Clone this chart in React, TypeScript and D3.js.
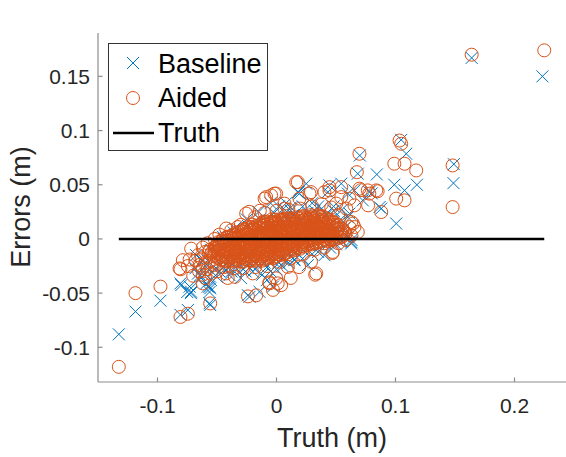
import React from "react";
import * as d3 from "d3";

// ---- data (values in millimetres; axes are in metres) ----
const xTicks = [-0.1, 0, 0.1, 0.2];
const xTickLabels = ["-0.1", "0", "0.1", "0.2"];
const yTicks = [-0.1, -0.05, 0, 0.05, 0.1, 0.15];
const yTickLabels = ["-0.1", "-0.05", "0", "0.05", "0.1", "0.15"];
const legendLabels = ["Baseline", "Aided", "Truth"];

// Baseline (blue x) – isolated points
const baselineOutliers: [number, number][] = [
  [223.5, 150], [164, 167], [70, 77], [104.8, 91.4], [109, 78.6], [84.3, 59.5], [99, 50], [107.6, 44.8],
  [118, 50], [88, 28], [100.6, 14.2], [149, 69], [148.7, 51.5], [80, 42], [68.3, 60.2], [63, -3],
  [18.5, 43], [25, 51], [-3, -44], [-118.5, -67], [-97.5, -57], [-132.5, -88], [-80.7, -41],
  [-73, -44], [-75, -49], [-72, -50], [-74.5, -65.6], [-80.7, -70], [-55.7, -61], [-55.7, -45.6],
  [-59, -41], [-66, -32], [-24, -52], [-57.7, -44], [-56.3, -49], [63, -1], [86.6, 29.4],
  [44.5, 49.4], [54.4, 51], [60, 41.8], [78, 43.2], [72.5, 35.6], [61.3, 23.4], [19.3, 41.8],
  [-80, -42.6], [-71.7, -48.8], [-56.3, -59.4], [-22.7, -53.4], [-56.3, -44.2], [-39.5, -33.4],
  [-14.3, -48.8], [17.9, 43.2], [43.1, 43.2], [65.5, 44.8], [62.8, -4.2], [26.3, -24.2],
  [15.1, -19.6], [40.3, -15], [-67.5, -15], [-64, -33.4],
  [-65, -38], [-60, -32], [-68, -27], [-55, -38], [-50, -35], [-62, -20],
];
// Baseline – points in and around the dense cloud
const baselineCloud: [number, number][] = [
  [-60, -25], [-52, -28], [-48, -30], [-45, -26], [-38, -30], [-30, -36], [-28, -28], [-20, -30],
  [-12, -33], [-8, -38], [-5, -30], [0, -28], [5, -25], [10, -22], [15, -19], [22, -18], [30, -14],
  [35, -12], [45, -8], [50, -5], [55, -2], [-5, 33], [2, 30], [8, 33], [12, 29], [22, 30], [30, 33],
  [35, 30], [48, 30], [55, 27], [60, 20], [-15, 25], [-25, 18], [-35, 10], [-45, 2],
  [-50, -14], [-45, -8], [-42, -18], [-38, -4], [-35, -16], [-32, -22], [-30, 0], [-28, -10],
  [-25, -24], [-22, -14], [-20, 4], [-18, -22], [-15, -6], [-12, 10], [-10, -22], [-8, -12],
  [-5, 2], [-3, -20], [0, -8], [2, 12], [4, -18], [6, -4], [8, 20], [10, -14], [12, 6], [14, 22],
  [16, -12], [18, 2], [20, 16], [22, -10], [24, 8], [26, 24], [28, -6], [30, 12], [32, 26],
  [34, -2], [36, 16], [38, 28], [40, 4], [42, 22], [44, -4], [46, 14], [48, 26], [50, 6], [52, -2],
  [54, 18], [57, 10], [60, 2], [-55, -10], [-58, -20], [-47, -24], [-40, -26], [-33, -28],
  [-26, -30], [-18, -28], [-8, -26], [2, -22], [8, -20], [-14, 18], [-24, 12], [-36, 6], [-44, 0],
  [-2, 24], [6, 28], [12, 26],
];

// Aided (orange o) – isolated points
const aidedOutliers: [number, number][] = [
  [225, 174], [164, 170], [69.7, 78.6], [103.4, 90.8], [104.8, 87.8], [99, 69.4], [107.6, 69.4],
  [117.4, 63.2], [100.6, 37.2], [107.6, 35.6], [88, 24.8], [148, 67.8], [148, 29.4], [85, 44],
  [67.5, 61.6], [71, 45], [77, 31], [17.9, 52.4], [29, 43.2], [32.5, -33], [12, -36], [-6, -40],
  [1, -41], [-118.5, -50], [-97.5, -44], [-132.5, -118], [-80.7, -28], [-73, -19], [-74.5, -25],
  [-74.5, -69], [-80.7, -72], [-55.7, -59.5], [-64.7, -24], [-62, -27], [-62, -33], [-41, -36],
  [-35, -35], [-71.7, -9], [-24, -53], [-17, -52], [-3, -47], [-62, -41], [58.5, -1], [63, 3],
  [65.5, 11], [47, -13], [29, -21], [19, -26], [-78.7, -19.6], [-81.5, -27.2], [-42.3, -31.8],
  [-19.9, -31.8], [-5.9, -41], [-0.3, -36.4], [33.4, -31.8], [9.5, -25.8], [3.9, -42.6],
  [44.5, 47.8], [54.4, 47.8], [69.7, 46.4], [76.7, 44.8], [83.8, 44.8], [61.3, 37.2], [78, 41.8],
];
// Aided – fringe around the dense cloud
const aidedFringe: [number, number][] = [
  [-23, 25], [-14, 26], [-8.7, 38.6], [-1.7, 41.8], [6.7, 32.6], [16.6, 52.4], [-42.3, 9.6],
  [-32.5, 11], [-25.5, 23.4], [6.7, 28], [19.3, 37.2], [27.7, 41.8], [40.3, 43.2], [54.4, 38.6],
  [65.5, 31], [62.8, 15.6], [68.3, 6.4], [47.3, -12], [44.5, 44.8], [50.2, 32.6], [58.6, 28],
  [64.2, 14.2], [61.3, 11], [-4.5, 40.2], [-0.3, 41.8], [-10, 37.2], [-48, 4], [-52, 0], [-38, 8],
  [-30, 13], [-18, 20], [-10, 24], [0, 26], [10, 27], [20, 28], [30, 30], [38, 32], [46, 29],
  [52, 22], [-56, -20], [-52, -24], [-44, -26], [-36, -27], [-28, -27], [-18, -26], [-8, -25],
  [2, -21], [12, -18], [22, -14], [32, -10], [40, -8], [52, -4], [-60, -12], [-58, -4],
  [-66, -15], [-68, -20], [-63, -18], [-60, -22], [-58, -28], [-65, -30], [-70, -34], [-60, -36],
  [-55, -32], [-50, -30], [-57, -12], [-62, -8], [-52, -22],
];
// Aided – dense cloud (first pass)
const aidedCloud: [number, number][] = [
  [-53, -16], [-54, -12], [-52, -8],
  [-50, -17], [-49, -13], [-51, -9], [-50, -5],
  [-47, -19], [-46, -15], [-47, -10], [-48, -6], [-46, -2],
  [-43, -20], [-44, -16], [-42, -12], [-43, -7], [-44, -3], [-42, 1],
  [-40, -18], [-39, -14], [-41, -10], [-40, -6], [-39, -2], [-40, 2],
  [-36, -21], [-37, -17], [-35, -13], [-36, -9], [-37, -5], [-35, -1], [-36, 4],
  [-33, -19], [-32, -15], [-34, -11], [-33, -7], [-32, -3], [-33, 1], [-34, 6],
  [-30, -21], [-29, -17], [-31, -13], [-30, -9], [-29, -5], [-30, -1], [-31, 3], [-29, 7],
  [-26, -19], [-27, -15], [-25, -11], [-26, -7], [-27, -3], [-25, 1], [-26, 5], [-27, 9],
  [-23, -20], [-22, -16], [-24, -12], [-23, -8], [-22, -4], [-23, 0], [-24, 4], [-22, 8], [-23, 11],
  [-20, -18], [-19, -14], [-21, -10], [-20, -6], [-19, -2], [-21, 2], [-20, 6], [-19, 10], [-20, 13],
  [-16, -20], [-17, -16], [-15, -12], [-16, -8], [-17, -4], [-15, 0], [-16, 4], [-17, 8], [-15, 12],
  [-13, -18], [-12, -14], [-14, -10], [-13, -6], [-12, -2], [-13, 2], [-14, 6], [-12, 10], [-13, 14],
  [-10, -19], [-9, -15], [-11, -11], [-10, -7], [-9, -3], [-10, 1], [-11, 5], [-9, 9], [-10, 13], [-11, 16],
  [-6, -17], [-7, -13], [-5, -9], [-6, -5], [-7, -1], [-5, 3], [-6, 7], [-7, 11], [-5, 15],
  [-3, -18], [-2, -14], [-4, -10], [-3, -6], [-2, -2], [-3, 2], [-4, 6], [-2, 10], [-3, 14], [-4, 18],
  [0, -16], [1, -12], [-1, -8], [0, -4], [1, 0], [-1, 4], [0, 8], [1, 12], [0, 16],
  [3, -15], [2, -11], [4, -7], [3, -3], [2, 1], [4, 5], [3, 9], [2, 13], [3, 17],
  [6, -14], [7, -10], [5, -6], [6, -2], [7, 2], [5, 6], [6, 10], [7, 14], [6, 18],
  [10, -12], [9, -8], [11, -4], [10, 0], [9, 4], [11, 8], [10, 12], [9, 16], [10, 19],
  [13, -11], [14, -7], [12, -3], [13, 1], [14, 5], [12, 9], [13, 13], [14, 17],
  [16, -10], [15, -6], [17, -2], [16, 2], [15, 6], [17, 10], [16, 14], [15, 18],
  [20, -9], [21, -5], [19, -1], [20, 3], [21, 7], [19, 11], [20, 15], [21, 19],
  [23, -7], [22, -3], [24, 1], [23, 5], [22, 9], [24, 13], [23, 17], [22, 21],
  [26, -6], [27, -2], [25, 2], [26, 6], [27, 10], [25, 14], [26, 18],
  [30, -5], [29, -1], [31, 3], [30, 7], [29, 11], [31, 15], [30, 19], [29, 22],
  [33, -4], [34, 0], [32, 4], [33, 8], [34, 12], [32, 16], [33, 20],
  [36, -3], [35, 1], [37, 5], [36, 9], [35, 13], [37, 17], [36, 21],
  [40, -4], [41, 0], [39, 4], [40, 8], [41, 12], [39, 16], [40, 20],
  [43, -2], [42, 2], [44, 6], [43, 10], [42, 14], [44, 18],
  [46, -1], [47, 3], [45, 7], [46, 11], [47, 15],
  [50, 0], [49, 4], [51, 8], [50, 12], [49, 15],
  [53, 1], [54, 5], [52, 9],
  [56, 3], [57, 7],
];
// Aided – dense cloud (second pass, interleaved)
const aidedCloud2: [number, number][] = [
  [-55, -14], [-56, -10],
  [-51.5, -15], [-52, -11], [-51, -7],
  [-48.5, -18], [-49, -14], [-48, -10], [-48.5, -6], [-49, -3],
  [-45, -19], [-45.5, -15], [-44.5, -11], [-45, -7], [-45.5, -3], [-45, 0],
  [-41.5, -21], [-42, -17], [-41, -13], [-41.5, -9], [-42, -5], [-41, -1], [-41.5, 2],
  [-38, -20], [-38.5, -16], [-37.5, -12], [-38, -8], [-38.5, -4], [-37.5, 0], [-38, 3],
  [-34.5, -20], [-35, -16], [-34, -12], [-34.5, -8], [-35, -4], [-34, 0], [-34.5, 4],
  [-31.5, -20], [-32, -16], [-31, -12], [-31.5, -8], [-32, -4], [-31, 0], [-31.5, 4], [-32, 6],
  [-28, -21], [-28.5, -17], [-27.5, -13], [-28, -9], [-28.5, -5], [-27.5, -1], [-28, 3], [-28.5, 7], [-27.5, 9],
  [-24.5, -19], [-25, -15], [-24, -11], [-24.5, -7], [-25, -3], [-24, 1], [-24.5, 5], [-25, 9],
  [-21.5, -20], [-22, -16], [-21, -12], [-21.5, -8], [-22, -4], [-21, 0], [-21.5, 4], [-22, 8], [-21, 11],
  [-18, -19], [-18.5, -15], [-17.5, -11], [-18, -7], [-18.5, -3], [-17.5, 1], [-18, 5], [-18.5, 9], [-17.5, 12],
  [-14.5, -18], [-15, -14], [-14, -10], [-14.5, -6], [-15, -2], [-14, 2], [-14.5, 6], [-15, 10], [-14, 13],
  [-11.5, -20], [-12, -16], [-11, -12], [-11.5, -8], [-12, -4], [-11, 0], [-11.5, 4], [-12, 8], [-11, 12], [-11.5, 15],
  [-8, -18], [-8.5, -14], [-7.5, -10], [-8, -6], [-8.5, -2], [-7.5, 2], [-8, 6], [-8.5, 10], [-7.5, 14], [-8, 16],
  [-4.5, -16], [-5, -12], [-4, -8], [-4.5, -4], [-5, 0], [-4, 4], [-4.5, 8], [-5, 12], [-4, 16],
  [-1.5, -17], [-2, -13], [-1, -9], [-1.5, -5], [-2, -1], [-1, 3], [-1.5, 7], [-2, 11], [-1, 15], [-1.5, 18],
  [1.5, -14], [1, -10], [2, -6], [1.5, -2], [1, 2], [2, 6], [1.5, 10], [1, 14], [2, 18],
  [4.5, -13], [4, -9], [5, -5], [4.5, -1], [4, 3], [5, 7], [4.5, 11], [4, 15], [5, 18],
  [8, -13], [7.5, -9], [8.5, -5], [8, -1], [7.5, 3], [8.5, 7], [8, 11], [7.5, 15], [8.5, 19],
  [11.5, -10], [11, -6], [12, -2], [11.5, 2], [11, 6], [12, 10], [11.5, 14], [11, 18],
  [14.5, -9], [14, -5], [15, -1], [14.5, 3], [14, 7], [15, 11], [14.5, 15], [14, 19],
  [18, -8], [17.5, -4], [18.5, 0], [18, 4], [17.5, 8], [18.5, 12], [18, 16], [17.5, 20],
  [21.5, -7], [21, -3], [22, 1], [21.5, 5], [21, 9], [22, 13], [21.5, 17], [21, 20],
  [24.5, -5], [24, -1], [25, 3], [24.5, 7], [24, 11], [25, 15], [24.5, 19], [24, 21],
  [28, -4], [27.5, 0], [28.5, 4], [28, 8], [27.5, 12], [28.5, 16], [28, 20],
  [31.5, -3], [31, 1], [32, 5], [31.5, 9], [31, 13], [32, 17], [31.5, 21],
  [34.5, -2], [34, 2], [35, 6], [34.5, 10], [34, 14], [35, 18], [34.5, 22],
  [38, -2], [37.5, 2], [38.5, 6], [38, 10], [37.5, 14], [38.5, 18], [38, 21],
  [41.5, -1], [41, 3], [42, 7], [41.5, 11], [41, 15], [42, 19],
  [44.5, 0], [44, 4], [45, 8], [44.5, 12], [44, 16],
  [48, 1], [47.5, 5], [48.5, 9], [48, 13], [47.5, 16],
  [51.5, 2], [51, 6], [52, 10], [51.5, 13],
  [55, 2], [54.5, 6], [55.5, 9],
  [58, 5],
];

const MM = 0.001;
const baseline = [...baselineCloud, ...baselineOutliers].map(([x, y]) => [x * MM, y * MM]);
const aided = [...aidedCloud, ...aidedCloud2, ...aidedFringe, ...aidedOutliers].map(([x, y]) => [x * MM, y * MM]);

const BLUE = "#0072BD";
const ORANGE = "#D95319";
const FONT = "'Liberation Sans', Arial, Helvetica, sans-serif";

export default function App() {
  const W = 566, H = 457;
  const x = d3.scaleLinear().domain([-0.15, 0.25]).range([98, 574]);
  const y = d3.scaleLinear().domain([-0.132, 0.19]).range([382, 33]);
  const xExt = d3.extent([...baseline, ...aided].map((d) => d[0])) as [number, number];
  const truthLine = d3.line<[number, number]>().x((d) => x(d[0])).y((d) => y(d[1]));
  const cs = 6; // cross half-size
  const cr = 6.5; // circle radius
  const axisColor = "#8c8c8c";
  const textColor = "#262626";

  return (
    <svg width={W} height={H} style={{ position: "absolute", left: 0, top: 0, background: "#fff" }}
      fontFamily={FONT}>
      <rect width={W} height={H} fill="#fff" />
      {/* axes */}
      <line x1={x.range()[0]} x2={x.range()[0]} y1={y.range()[0]} y2={y.range()[1]} stroke={axisColor} strokeWidth={1.2} />
      <line x1={x.range()[0]} x2={x.range()[1]} y1={y.range()[0]} y2={y.range()[0]} stroke={axisColor} strokeWidth={1.2} />
      {yTicks.map((t, i) => (
        <g key={"yt" + i}>
          <line x1={x.range()[0]} x2={x.range()[0] + 4.5} y1={y(t)} y2={y(t)} stroke={axisColor} strokeWidth={1.2} />
          <text x={90} y={y(t)} dy="0.36em" textAnchor="end" fontSize={21} fill={textColor}>{yTickLabels[i]}</text>
        </g>
      ))}
      {xTicks.map((t, i) => (
        <g key={"xt" + i}>
          <line x1={x(t)} x2={x(t)} y1={y.range()[0]} y2={y.range()[0] - 4.5} stroke={axisColor} strokeWidth={1.2} />
          <text x={x(t)} y={413} textAnchor="middle" fontSize={21} fill={textColor}>{xTickLabels[i]}</text>
        </g>
      ))}
      <text x={332} y={447} textAnchor="middle" fontSize={27} fill={textColor}>Truth (m)</text>
      <text transform="translate(30,207) rotate(-90)" textAnchor="middle" fontSize={27} fill={textColor}>Errors (m)</text>

      {/* baseline crosses */}
      <g stroke={BLUE} strokeWidth={1} fill="none">
        {baseline.map((d, i) => (
          <path key={"b" + i}
            d={`M${x(d[0]) - cs},${y(d[1]) - cs}L${x(d[0]) + cs},${y(d[1]) + cs}M${x(d[0]) - cs},${y(d[1]) + cs}L${x(d[0]) + cs},${y(d[1]) - cs}`} />
        ))}
      </g>
      {/* aided circles */}
      <g stroke={ORANGE} strokeWidth={1} fill="none">
        {aided.map((d, i) => (
          <circle key={"a" + i} cx={x(d[0])} cy={y(d[1])} r={cr} />
        ))}
      </g>
      {/* truth line */}
      <path d={truthLine([[xExt[0], 0], [xExt[1], 0]]) || ""} stroke="#000" strokeWidth={2.5} fill="none" />

      {/* legend */}
      <g>
        <rect x={108.5} y={43.5} width={159} height={107} fill="#fff" stroke="#333" strokeWidth={1} />
        <path d={`M${133 - cs},${63 - cs}L${133 + cs},${63 + cs}M${133 - cs},${63 + cs}L${133 + cs},${63 - cs}`} stroke={BLUE} strokeWidth={1} />
        <circle cx={133} cy={98} r={cr} stroke={ORANGE} strokeWidth={1} fill="none" />
        <line x1={113} x2={154} y1={133} y2={133} stroke="#000" strokeWidth={2.5} />
        {legendLabels.map((l, i) => (
          <text key={l} x={158} y={73 + i * 34.3} fontSize={27} fill="#000">{l}</text>
        ))}
      </g>
    </svg>
  );
}
